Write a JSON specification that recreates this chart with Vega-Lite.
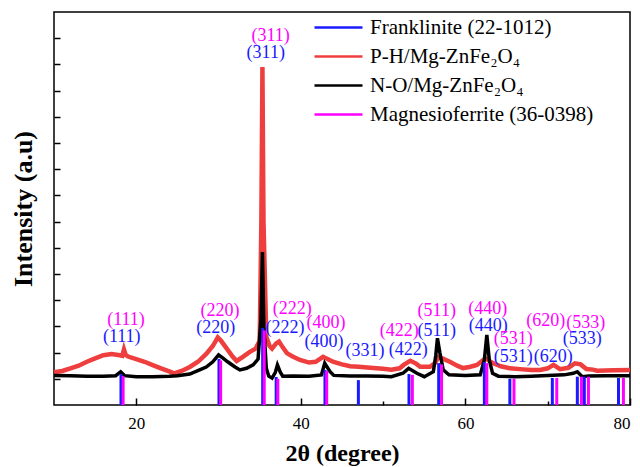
{
  "$schema": "https://vega.github.io/schema/vega-lite/v6.json",
  "width": 576,
  "height": 393,
  "autosize": {"type": "none"},
  "padding": {"left": 54, "top": 12, "right": 10, "bottom": 62},
  "background": "white",
  "config": {
    "view": {"stroke": "black", "strokeWidth": 1.5},
    "font": "Liberation Serif"
  },
  "datasets": {
    "curves": [
      {"t": 10, "I": 125, "s": "P-H/Mg-ZnFe₂O₄"}, {"t": 11, "I": 130, "s": "P-H/Mg-ZnFe₂O₄"}, {"t": 12, "I": 140, "s": "P-H/Mg-ZnFe₂O₄"},
      {"t": 13, "I": 150, "s": "P-H/Mg-ZnFe₂O₄"}, {"t": 14, "I": 165, "s": "P-H/Mg-ZnFe₂O₄"}, {"t": 15, "I": 178, "s": "P-H/Mg-ZnFe₂O₄"},
      {"t": 16, "I": 190, "s": "P-H/Mg-ZnFe₂O₄"}, {"t": 17, "I": 195, "s": "P-H/Mg-ZnFe₂O₄"}, {"t": 18, "I": 190, "s": "P-H/Mg-ZnFe₂O₄"},
      {"t": 18.3, "I": 188, "s": "P-H/Mg-ZnFe₂O₄"}, {"t": 18.5, "I": 212, "s": "P-H/Mg-ZnFe₂O₄"}, {"t": 18.7, "I": 192, "s": "P-H/Mg-ZnFe₂O₄"},
      {"t": 19, "I": 185, "s": "P-H/Mg-ZnFe₂O₄"}, {"t": 20, "I": 175, "s": "P-H/Mg-ZnFe₂O₄"}, {"t": 21, "I": 165, "s": "P-H/Mg-ZnFe₂O₄"},
      {"t": 22, "I": 152, "s": "P-H/Mg-ZnFe₂O₄"}, {"t": 23, "I": 140, "s": "P-H/Mg-ZnFe₂O₄"}, {"t": 24, "I": 128, "s": "P-H/Mg-ZnFe₂O₄"},
      {"t": 24.6, "I": 121, "s": "P-H/Mg-ZnFe₂O₄"}, {"t": 25.5, "I": 130, "s": "P-H/Mg-ZnFe₂O₄"}, {"t": 26.5, "I": 145, "s": "P-H/Mg-ZnFe₂O₄"},
      {"t": 27.5, "I": 165, "s": "P-H/Mg-ZnFe₂O₄"}, {"t": 28.5, "I": 195, "s": "P-H/Mg-ZnFe₂O₄"}, {"t": 29.3, "I": 225, "s": "P-H/Mg-ZnFe₂O₄"},
      {"t": 29.9, "I": 258, "s": "P-H/Mg-ZnFe₂O₄"}, {"t": 30.3, "I": 245, "s": "P-H/Mg-ZnFe₂O₄"}, {"t": 31, "I": 215, "s": "P-H/Mg-ZnFe₂O₄"},
      {"t": 31.7, "I": 185, "s": "P-H/Mg-ZnFe₂O₄"}, {"t": 32.2, "I": 168, "s": "P-H/Mg-ZnFe₂O₄"}, {"t": 33, "I": 185, "s": "P-H/Mg-ZnFe₂O₄"},
      {"t": 33.8, "I": 203, "s": "P-H/Mg-ZnFe₂O₄"}, {"t": 34.5, "I": 215, "s": "P-H/Mg-ZnFe₂O₄"}, {"t": 35.0, "I": 245, "s": "P-H/Mg-ZnFe₂O₄"},
      {"t": 35.2, "I": 700, "s": "P-H/Mg-ZnFe₂O₄"}, {"t": 35.33, "I": 1290, "s": "P-H/Mg-ZnFe₂O₄"}, {"t": 35.46, "I": 700, "s": "P-H/Mg-ZnFe₂O₄"},
      {"t": 35.8, "I": 260, "s": "P-H/Mg-ZnFe₂O₄"}, {"t": 36.2, "I": 225, "s": "P-H/Mg-ZnFe₂O₄"}, {"t": 36.5, "I": 215, "s": "P-H/Mg-ZnFe₂O₄"},
      {"t": 37.0, "I": 235, "s": "P-H/Mg-ZnFe₂O₄"}, {"t": 37.35, "I": 242, "s": "P-H/Mg-ZnFe₂O₄"}, {"t": 37.8, "I": 220, "s": "P-H/Mg-ZnFe₂O₄"},
      {"t": 38.3, "I": 198, "s": "P-H/Mg-ZnFe₂O₄"}, {"t": 39.0, "I": 185, "s": "P-H/Mg-ZnFe₂O₄"}, {"t": 39.9, "I": 172, "s": "P-H/Mg-ZnFe₂O₄"},
      {"t": 41.0, "I": 162, "s": "P-H/Mg-ZnFe₂O₄"}, {"t": 41.8, "I": 165, "s": "P-H/Mg-ZnFe₂O₄"}, {"t": 42.7, "I": 184, "s": "P-H/Mg-ZnFe₂O₄"},
      {"t": 43.3, "I": 175, "s": "P-H/Mg-ZnFe₂O₄"}, {"t": 43.9, "I": 165, "s": "P-H/Mg-ZnFe₂O₄"}, {"t": 45, "I": 155, "s": "P-H/Mg-ZnFe₂O₄"},
      {"t": 46, "I": 148, "s": "P-H/Mg-ZnFe₂O₄"}, {"t": 47, "I": 146, "s": "P-H/Mg-ZnFe₂O₄"}, {"t": 48.8, "I": 141, "s": "P-H/Mg-ZnFe₂O₄"},
      {"t": 50, "I": 138, "s": "P-H/Mg-ZnFe₂O₄"}, {"t": 51, "I": 135, "s": "P-H/Mg-ZnFe₂O₄"}, {"t": 52, "I": 140, "s": "P-H/Mg-ZnFe₂O₄"},
      {"t": 52.5, "I": 153, "s": "P-H/Mg-ZnFe₂O₄"}, {"t": 53.3, "I": 169, "s": "P-H/Mg-ZnFe₂O₄"}, {"t": 54, "I": 158, "s": "P-H/Mg-ZnFe₂O₄"},
      {"t": 54.5, "I": 146, "s": "P-H/Mg-ZnFe₂O₄"}, {"t": 55.7, "I": 146, "s": "P-H/Mg-ZnFe₂O₄"}, {"t": 56.3, "I": 160, "s": "P-H/Mg-ZnFe₂O₄"},
      {"t": 56.7, "I": 182, "s": "P-H/Mg-ZnFe₂O₄"}, {"t": 57.2, "I": 178, "s": "P-H/Mg-ZnFe₂O₄"}, {"t": 58.1, "I": 165, "s": "P-H/Mg-ZnFe₂O₄"},
      {"t": 59, "I": 150, "s": "P-H/Mg-ZnFe₂O₄"}, {"t": 59.7, "I": 141, "s": "P-H/Mg-ZnFe₂O₄"}, {"t": 60.5, "I": 145, "s": "P-H/Mg-ZnFe₂O₄"},
      {"t": 61.4, "I": 153, "s": "P-H/Mg-ZnFe₂O₄"}, {"t": 62.4, "I": 178, "s": "P-H/Mg-ZnFe₂O₄"}, {"t": 63.4, "I": 159, "s": "P-H/Mg-ZnFe₂O₄"},
      {"t": 64.3, "I": 148, "s": "P-H/Mg-ZnFe₂O₄"}, {"t": 65.4, "I": 140, "s": "P-H/Mg-ZnFe₂O₄"}, {"t": 67, "I": 136, "s": "P-H/Mg-ZnFe₂O₄"},
      {"t": 68, "I": 134, "s": "P-H/Mg-ZnFe₂O₄"}, {"t": 69.1, "I": 134, "s": "P-H/Mg-ZnFe₂O₄"}, {"t": 70, "I": 140, "s": "P-H/Mg-ZnFe₂O₄"},
      {"t": 70.7, "I": 153, "s": "P-H/Mg-ZnFe₂O₄"}, {"t": 71.5, "I": 137, "s": "P-H/Mg-ZnFe₂O₄"}, {"t": 72.5, "I": 142, "s": "P-H/Mg-ZnFe₂O₄"},
      {"t": 73.3, "I": 159, "s": "P-H/Mg-ZnFe₂O₄"}, {"t": 74, "I": 155, "s": "P-H/Mg-ZnFe₂O₄"}, {"t": 74.7, "I": 137, "s": "P-H/Mg-ZnFe₂O₄"},
      {"t": 75.5, "I": 135, "s": "P-H/Mg-ZnFe₂O₄"}, {"t": 76, "I": 131, "s": "P-H/Mg-ZnFe₂O₄"}, {"t": 78, "I": 133, "s": "P-H/Mg-ZnFe₂O₄"},
      {"t": 80, "I": 134, "s": "P-H/Mg-ZnFe₂O₄"},
      {"t": 10, "I": 113, "s": "N-O/Mg-ZnFe₂O₄"}, {"t": 12, "I": 112, "s": "N-O/Mg-ZnFe₂O₄"}, {"t": 14, "I": 110, "s": "N-O/Mg-ZnFe₂O₄"},
      {"t": 16, "I": 110, "s": "N-O/Mg-ZnFe₂O₄"}, {"t": 17.5, "I": 112, "s": "N-O/Mg-ZnFe₂O₄"}, {"t": 18.1, "I": 127, "s": "N-O/Mg-ZnFe₂O₄"},
      {"t": 18.6, "I": 112, "s": "N-O/Mg-ZnFe₂O₄"}, {"t": 20, "I": 108, "s": "N-O/Mg-ZnFe₂O₄"}, {"t": 22, "I": 108, "s": "N-O/Mg-ZnFe₂O₄"},
      {"t": 24, "I": 110, "s": "N-O/Mg-ZnFe₂O₄"}, {"t": 25, "I": 112, "s": "N-O/Mg-ZnFe₂O₄"}, {"t": 26.5, "I": 118, "s": "N-O/Mg-ZnFe₂O₄"},
      {"t": 27.7, "I": 134, "s": "N-O/Mg-ZnFe₂O₄"}, {"t": 28.5, "I": 145, "s": "N-O/Mg-ZnFe₂O₄"}, {"t": 29.3, "I": 165, "s": "N-O/Mg-ZnFe₂O₄"},
      {"t": 30.0, "I": 191, "s": "N-O/Mg-ZnFe₂O₄"}, {"t": 30.5, "I": 180, "s": "N-O/Mg-ZnFe₂O₄"}, {"t": 31.1, "I": 165, "s": "N-O/Mg-ZnFe₂O₄"},
      {"t": 32, "I": 145, "s": "N-O/Mg-ZnFe₂O₄"}, {"t": 32.6, "I": 134, "s": "N-O/Mg-ZnFe₂O₄"}, {"t": 33.4, "I": 140, "s": "N-O/Mg-ZnFe₂O₄"},
      {"t": 34.2, "I": 153, "s": "N-O/Mg-ZnFe₂O₄"}, {"t": 34.8, "I": 175, "s": "N-O/Mg-ZnFe₂O₄"}, {"t": 35.15, "I": 330, "s": "N-O/Mg-ZnFe₂O₄"},
      {"t": 35.33, "I": 584, "s": "N-O/Mg-ZnFe₂O₄"}, {"t": 35.5, "I": 300, "s": "N-O/Mg-ZnFe₂O₄"}, {"t": 35.8, "I": 140, "s": "N-O/Mg-ZnFe₂O₄"},
      {"t": 36.1, "I": 110, "s": "N-O/Mg-ZnFe₂O₄"}, {"t": 36.5, "I": 103, "s": "N-O/Mg-ZnFe₂O₄"}, {"t": 36.9, "I": 125, "s": "N-O/Mg-ZnFe₂O₄"},
      {"t": 37.15, "I": 153, "s": "N-O/Mg-ZnFe₂O₄"}, {"t": 37.5, "I": 125, "s": "N-O/Mg-ZnFe₂O₄"}, {"t": 37.8, "I": 110, "s": "N-O/Mg-ZnFe₂O₄"},
      {"t": 39, "I": 111, "s": "N-O/Mg-ZnFe₂O₄"}, {"t": 41, "I": 110, "s": "N-O/Mg-ZnFe₂O₄"}, {"t": 42.5, "I": 115, "s": "N-O/Mg-ZnFe₂O₄"},
      {"t": 42.9, "I": 159, "s": "N-O/Mg-ZnFe₂O₄"}, {"t": 43.55, "I": 127, "s": "N-O/Mg-ZnFe₂O₄"}, {"t": 44, "I": 113, "s": "N-O/Mg-ZnFe₂O₄"},
      {"t": 46, "I": 111, "s": "N-O/Mg-ZnFe₂O₄"}, {"t": 48, "I": 111, "s": "N-O/Mg-ZnFe₂O₄"}, {"t": 50, "I": 110, "s": "N-O/Mg-ZnFe₂O₄"},
      {"t": 51, "I": 108, "s": "N-O/Mg-ZnFe₂O₄"}, {"t": 52.4, "I": 121, "s": "N-O/Mg-ZnFe₂O₄"}, {"t": 53.1, "I": 140, "s": "N-O/Mg-ZnFe₂O₄"},
      {"t": 54.1, "I": 121, "s": "N-O/Mg-ZnFe₂O₄"}, {"t": 55, "I": 108, "s": "N-O/Mg-ZnFe₂O₄"}, {"t": 56.1, "I": 127, "s": "N-O/Mg-ZnFe₂O₄"},
      {"t": 56.4, "I": 190, "s": "N-O/Mg-ZnFe₂O₄"}, {"t": 56.6, "I": 255, "s": "N-O/Mg-ZnFe₂O₄"}, {"t": 56.9, "I": 198, "s": "N-O/Mg-ZnFe₂O₄"},
      {"t": 57.3, "I": 134, "s": "N-O/Mg-ZnFe₂O₄"}, {"t": 58, "I": 115, "s": "N-O/Mg-ZnFe₂O₄"}, {"t": 60, "I": 113, "s": "N-O/Mg-ZnFe₂O₄"},
      {"t": 61.8, "I": 115, "s": "N-O/Mg-ZnFe₂O₄"}, {"t": 62.3, "I": 172, "s": "N-O/Mg-ZnFe₂O₄"}, {"t": 62.6, "I": 267, "s": "N-O/Mg-ZnFe₂O₄"},
      {"t": 62.9, "I": 172, "s": "N-O/Mg-ZnFe₂O₄"}, {"t": 63.3, "I": 121, "s": "N-O/Mg-ZnFe₂O₄"}, {"t": 64, "I": 110, "s": "N-O/Mg-ZnFe₂O₄"},
      {"t": 66, "I": 108, "s": "N-O/Mg-ZnFe₂O₄"}, {"t": 68, "I": 110, "s": "N-O/Mg-ZnFe₂O₄"}, {"t": 70, "I": 113, "s": "N-O/Mg-ZnFe₂O₄"},
      {"t": 72, "I": 115, "s": "N-O/Mg-ZnFe₂O₄"}, {"t": 73.1, "I": 121, "s": "N-O/Mg-ZnFe₂O₄"}, {"t": 73.6, "I": 127, "s": "N-O/Mg-ZnFe₂O₄"},
      {"t": 74.2, "I": 108, "s": "N-O/Mg-ZnFe₂O₄"}, {"t": 75, "I": 111, "s": "N-O/Mg-ZnFe₂O₄"}, {"t": 77, "I": 112, "s": "N-O/Mg-ZnFe₂O₄"},
      {"t": 80, "I": 112, "s": "N-O/Mg-ZnFe₂O₄"}
    ],
    "sticks": [
      {"t": 18.14, "I": 118, "s": "Franklinite (22-1012)"}, {"t": 30.05, "I": 176, "s": "Franklinite (22-1012)"},
      {"t": 35.36, "I": 294, "s": "Franklinite (22-1012)"}, {"t": 37.0, "I": 107, "s": "Franklinite (22-1012)"},
      {"t": 42.93, "I": 134, "s": "Franklinite (22-1012)"}, {"t": 46.99, "I": 95, "s": "Franklinite (22-1012)"},
      {"t": 53.14, "I": 118, "s": "Franklinite (22-1012)"}, {"t": 56.75, "I": 160, "s": "Franklinite (22-1012)"},
      {"t": 62.3, "I": 164, "s": "Franklinite (22-1012)"}, {"t": 65.4, "I": 100, "s": "Franklinite (22-1012)"},
      {"t": 70.56, "I": 103, "s": "Franklinite (22-1012)"}, {"t": 73.6, "I": 108, "s": "Franklinite (22-1012)"},
      {"t": 74.45, "I": 108, "s": "Franklinite (22-1012)"}, {"t": 78.6, "I": 103, "s": "Franklinite (22-1012)"},
      {"t": 18.4, "I": 110, "s": "Magnesioferrite (36-0398)"}, {"t": 30.25, "I": 170, "s": "Magnesioferrite (36-0398)"},
      {"t": 35.55, "I": 285, "s": "Magnesioferrite (36-0398)"}, {"t": 37.2, "I": 100, "s": "Magnesioferrite (36-0398)"},
      {"t": 43.14, "I": 130, "s": "Magnesioferrite (36-0398)"}, {"t": 53.55, "I": 115, "s": "Magnesioferrite (36-0398)"},
      {"t": 57.1, "I": 155, "s": "Magnesioferrite (36-0398)"}, {"t": 62.6, "I": 160, "s": "Magnesioferrite (36-0398)"},
      {"t": 65.9, "I": 100, "s": "Magnesioferrite (36-0398)"}, {"t": 71.1, "I": 103, "s": "Magnesioferrite (36-0398)"},
      {"t": 74.1, "I": 108, "s": "Magnesioferrite (36-0398)"}, {"t": 74.95, "I": 108, "s": "Magnesioferrite (36-0398)"},
      {"t": 79.2, "I": 103, "s": "Magnesioferrite (36-0398)"}
    ],
    "labels": [
      {"t": 36.33, "I": 1408, "txt": "(311)", "s": "M"}, {"t": 35.73, "I": 1342, "txt": "(311)", "s": "F"},
      {"t": 18.75, "I": 324, "txt": "(111)", "s": "M"}, {"t": 18.23, "I": 258, "txt": "(111)", "s": "F"},
      {"t": 30.17, "I": 359, "txt": "(220)", "s": "M"}, {"t": 29.65, "I": 293, "txt": "(220)", "s": "F"},
      {"t": 38.96, "I": 365, "txt": "(222)", "s": "M"}, {"t": 38.07, "I": 295, "txt": "(222)", "s": "F"},
      {"t": 43.06, "I": 312, "txt": "(400)", "s": "M"}, {"t": 42.81, "I": 242, "txt": "(400)", "s": "F"},
      {"t": 47.8, "I": 207, "txt": "(331)", "s": "F"},
      {"t": 51.96, "I": 282, "txt": "(422)", "s": "M"}, {"t": 53.06, "I": 210, "txt": "(422)", "s": "F"},
      {"t": 56.51, "I": 359, "txt": "(511)", "s": "M"}, {"t": 56.51, "I": 284, "txt": "(511)", "s": "F"},
      {"t": 62.71, "I": 365, "txt": "(440)", "s": "M"}, {"t": 62.78, "I": 302, "txt": "(440)", "s": "F"},
      {"t": 65.82, "I": 251, "txt": "(531)", "s": "M"}, {"t": 65.82, "I": 184, "txt": "(531)", "s": "F"},
      {"t": 69.76, "I": 321, "txt": "(620)", "s": "M"}, {"t": 70.68, "I": 184, "txt": "(620)", "s": "F"},
      {"t": 74.62, "I": 312, "txt": "(533)", "s": "M"}, {"t": 74.2, "I": 251, "txt": "(533)", "s": "F"}
    ]
  },
  "encoding": {
    "x": {
      "field": "t", "type": "quantitative",
      "scale": {"domain": [10, 80], "nice": false},
      "axis": {
        "title": "2θ (degree)", "titleFont": "Liberation Serif", "titleFontSize": 24, "titleFontWeight": "bold", "titleColor": "black", "titlePadding": 10,
        "values": [20, 30, 40, 50, 60, 70, 80],
        "labelExpr": "datum.value % 20 === 0 ? datum.label : ''",
        "labelFont": "Liberation Serif", "labelFontSize": 17, "labelColor": "black", "labelPadding": 17,
        "tickSize": {"condition": {"test": "datum.value % 20 === 0", "value": -7}, "value": -4},
        "tickColor": "black", "tickWidth": 1.5, "domain": false, "grid": false
      }
    },
    "y": {
      "field": "I", "type": "quantitative",
      "scale": {"domain": [0, 1500], "nice": false},
      "axis": {
        "title": "Intensity (a.u)", "titleFont": "Liberation Serif", "titleFontSize": 26, "titleFontWeight": "bold", "titleColor": "black", "titlePadding": 17,
        "values": [100, 200, 300, 400, 500, 600, 700, 800, 900, 1000, 1100, 1200, 1300, 1400],
        "labels": false, "tickSize": -6, "tickColor": "black", "tickWidth": 1.5, "domain": false, "grid": false
      }
    }
  },
  "layer": [
    {
      "data": {"name": "curves"},
      "transform": [{"filter": "datum.s === 'P-H/Mg-ZnFe₂O₄'"}],
      "mark": {"type": "line", "strokeWidth": 4.5},
      "encoding": {
        "color": {
          "field": "s", "type": "nominal",
          "scale": {
            "domain": ["Franklinite (22-1012)", "P-H/Mg-ZnFe₂O₄", "N-O/Mg-ZnFe₂O₄", "Magnesioferrite (36-0398)"],
            "range": ["#1a1aff", "#ef3e3e", "#000000", "#ff00ff"]
          },
          "legend": {
            "orient": "none", "legendX": 271, "legendY": 2, "title": null,
            "symbolType": "M-2,0H2", "symbolSize": 576, "symbolStrokeWidth": 2.5,
            "labelFont": "Liberation Serif", "labelFontSize": 21, "labelColor": "black",
            "labelOffset": 18, "labelLimit": 400, "rowPadding": 5, "padding": 0
          }
        }
      }
    },
    {
      "data": {"name": "curves"},
      "transform": [{"filter": "datum.s === 'N-O/Mg-ZnFe₂O₄'"}],
      "mark": {"type": "line", "strokeWidth": 3.5},
      "encoding": {"color": {"field": "s", "type": "nominal"}}
    },
    {
      "data": {"name": "sticks"},
      "mark": {"type": "rule", "strokeWidth": 3},
      "encoding": {
        "y2": {"datum": 0},
        "color": {"field": "s", "type": "nominal"}
      }
    },
    {
      "data": {"name": "labels"},
      "transform": [{"filter": "datum.s === 'F'"}],
      "mark": {"type": "text", "font": "Liberation Serif", "fontSize": 18, "color": "#1a1aff", "baseline": "middle", "align": "center"},
      "encoding": {"text": {"field": "txt"}}
    },
    {
      "data": {"name": "labels"},
      "transform": [{"filter": "datum.s === 'M'"}],
      "mark": {"type": "text", "font": "Liberation Serif", "fontSize": 18, "color": "#ff00ff", "baseline": "middle", "align": "center"},
      "encoding": {"text": {"field": "txt"}}
    }
  ]
}
